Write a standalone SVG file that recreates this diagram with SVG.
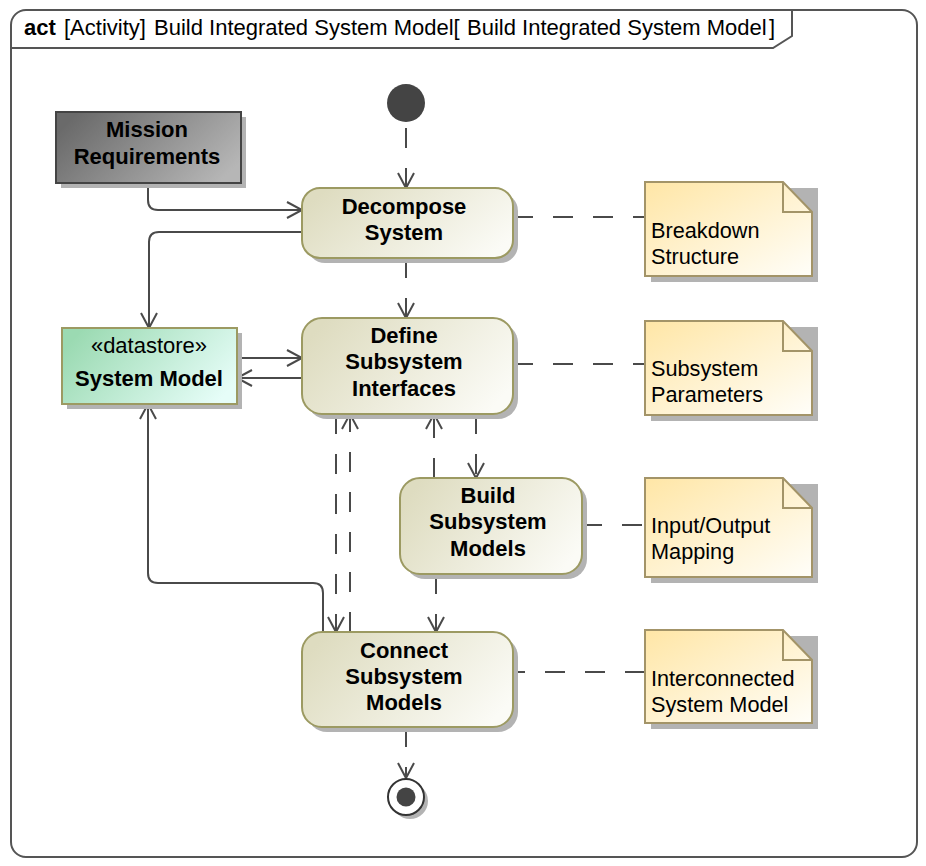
<svg xmlns="http://www.w3.org/2000/svg" width="926" height="866" viewBox="0 0 926 866">
<defs>
<linearGradient id="gAct" x1="0" y1="0.3" x2="1" y2="0.7"><stop offset="0" stop-color="#dedcc0"/><stop offset="1" stop-color="#fbfbf6"/></linearGradient>
<linearGradient id="gMis" x1="0" y1="0.3" x2="1" y2="0.7"><stop offset="0" stop-color="#6a6a6a"/><stop offset="1" stop-color="#b6b6b6"/></linearGradient>
<linearGradient id="gDs" x1="0" y1="0.3" x2="1" y2="0.7"><stop offset="0" stop-color="#9bdab2"/><stop offset="1" stop-color="#e6fdf8"/></linearGradient>
<linearGradient id="gNote" x1="0" y1="0" x2="1" y2="1"><stop offset="0" stop-color="#ffe6a6"/><stop offset="1" stop-color="#fffef9"/></linearGradient>
<marker id="arr" markerUnits="userSpaceOnUse" markerWidth="20" markerHeight="20" viewBox="0 0 20 20" refX="17" refY="10" orient="auto"><path d="M2,2 L17,10 L2,18" fill="none" stroke="#4a4a4a" stroke-width="2" stroke-dasharray="none"/></marker>
</defs>
<style>
.t{font-family:"Liberation Sans",Arial,sans-serif;font-size:22px;fill:#000}
.n{font-size:21.7px}
.b{font-weight:bold}
.m{text-anchor:middle}
.sh{fill:#b3b3b3}
.act{fill:url(#gAct);stroke:#9c9a62;stroke-width:2}
.note{fill:url(#gNote);stroke:#a39468;stroke-width:2}
.fold{fill:none;stroke:#a39468;stroke-width:2}
.flow{fill:none;stroke:#4a4a4a;stroke-width:2}
.dash{stroke-dasharray:20 20}
.arr{marker-end:url(#arr)}
</style>
<rect width="926" height="866" fill="#ffffff"/>

<g id="frame">
<path d="M26,10 H902 A15,15 0 0 1 917,25 V842 A15,15 0 0 1 902,857 H26 A15,15 0 0 1 11,842 V25 A15,15 0 0 1 26,10 Z" fill="#ffffff" stroke="#555555" stroke-width="2"/>
<path d="M11,48 H773 L792,36 V10" fill="none" stroke="#555555" stroke-width="2"/>
<text class="t" y="35"><tspan class="b" x="24">act</tspan><tspan x="64">[Activity]</tspan><tspan x="154">Build Integrated System Model[</tspan><tspan x="467">Build Integrated System Model</tspan><tspan x="769">]</tspan></text>
</g>

<g id="connectors">
<path class="flow dash arr" d="M406,128 V188"/>
<path class="flow arr" d="M148,183 V200 Q148,210 158,210 H302"/>
<path class="flow arr" d="M302,232 H159 Q149,232 149,242 V328"/>
<path class="flow arr" d="M237,358 H302"/>
<path class="flow arr" d="M302,378 H237"/>
<path class="flow arr" d="M323,632 V593 Q323,583 313,583 H158 Q148,583 148,573 V404"/>
<path class="flow dash arr" d="M406,258 V318"/>
<path class="flow dash arr" d="M336,414 V632"/>
<path class="flow dash arr" d="M350,632 V414"/>
<path class="flow dash arr" d="M476,414 V478"/>
<path class="flow dash arr" d="M434,478 V414"/>
<path class="flow dash arr" d="M436,574 V632"/>
<path class="flow dash arr" d="M406,727 V778"/>
<path class="flow dash" d="M513,217 H645"/>
<path class="flow dash" d="M513,364 H645"/>
<path class="flow dash" d="M582,525 H645"/>
<path class="flow dash" d="M645,672 H513"/>
</g>

<g id="initial">
<circle cx="406" cy="103" r="19" fill="#444444"/>
</g>

<g id="mission">
<rect class="sh" x="61" y="117" width="185" height="71"/>
<rect x="56" y="112" width="185" height="71" fill="url(#gMis)" stroke="#444444" stroke-width="2"/>
<text class="t b m" x="147" y="137">Mission</text>
<text class="t b m" x="147" y="164">Requirements</text>
</g>

<g id="decompose">
<rect class="sh" x="307" y="193" width="211" height="70" rx="18"/>
<rect class="act" x="302" y="188" width="211" height="70" rx="18"/>
<text class="t b m" x="404" y="214">Decompose</text>
<text class="t b m" x="404" y="240">System</text>
</g>

<g id="datastore">
<rect class="sh" x="67" y="333" width="175" height="76"/>
<rect x="62" y="328" width="175" height="76" fill="url(#gDs)" stroke="#9c9a62" stroke-width="2"/>
<text class="t m" x="149" y="353">«datastore»</text>
<text class="t b m" x="149" y="386">System Model</text>
</g>

<g id="define">
<rect class="sh" x="307" y="323" width="211" height="96" rx="20"/>
<rect class="act" x="302" y="318" width="211" height="96" rx="20"/>
<text class="t b m" x="404" y="343">Define</text>
<text class="t b m" x="404" y="369">Subsystem</text>
<text class="t b m" x="404" y="396">Interfaces</text>
</g>

<g id="build">
<rect class="sh" x="405" y="483" width="182" height="96" rx="20"/>
<rect class="act" x="400" y="478" width="182" height="96" rx="20"/>
<text class="t b m" x="488" y="503">Build</text>
<text class="t b m" x="488" y="529">Subsystem</text>
<text class="t b m" x="488" y="556">Models</text>
</g>

<g id="connect">
<rect class="sh" x="307" y="637" width="211" height="95" rx="20"/>
<rect class="act" x="302" y="632" width="211" height="95" rx="20"/>
<text class="t b m" x="404" y="658">Connect</text>
<text class="t b m" x="404" y="684">Subsystem</text>
<text class="t b m" x="404" y="710">Models</text>
</g>

<g id="final">
<circle cx="410" cy="801" r="18" fill="#b3b3b3"/>
<circle cx="406" cy="797" r="18" fill="#ffffff" stroke="#333333" stroke-width="2"/>
<circle cx="406" cy="797" r="9.5" fill="#444444"/>
</g>

<g id="note-breakdown">
<path class="sh" d="M651,188 H818 V282 H651 Z"/>
<path class="note" d="M645,182 H783 L812,212 V276 H645 Z"/>
<path class="fold" d="M783,182 V212 H812"/>
<text class="t n" x="651" y="238">Breakdown</text>
<text class="t n" x="651" y="264">Structure</text>
</g>

<g id="note-params">
<path class="sh" d="M651,327 H818 V421 H651 Z"/>
<path class="note" d="M645,321 H783 L812,351 V415 H645 Z"/>
<path class="fold" d="M783,321 V351 H812"/>
<text class="t n" x="651" y="376">Subsystem</text>
<text class="t n" x="651" y="402">Parameters</text>
</g>

<g id="note-io">
<path class="sh" d="M651,484 H818 V583 H651 Z"/>
<path class="note" d="M645,478 H783 L812,508 V577 H645 Z"/>
<path class="fold" d="M783,478 V508 H812"/>
<text class="t n" x="651" y="533">Input/Output</text>
<text class="t n" x="651" y="559">Mapping</text>
</g>

<g id="note-interconnected">
<path class="sh" d="M651,636 H818 V729 H651 Z"/>
<path class="note" d="M645,630 H783 L812,660 V723 H645 Z"/>
<path class="fold" d="M783,630 V660 H812"/>
<text class="t n" x="651" y="686">Interconnected</text>
<text class="t n" x="651" y="712">System Model</text>
</g>
</svg>
